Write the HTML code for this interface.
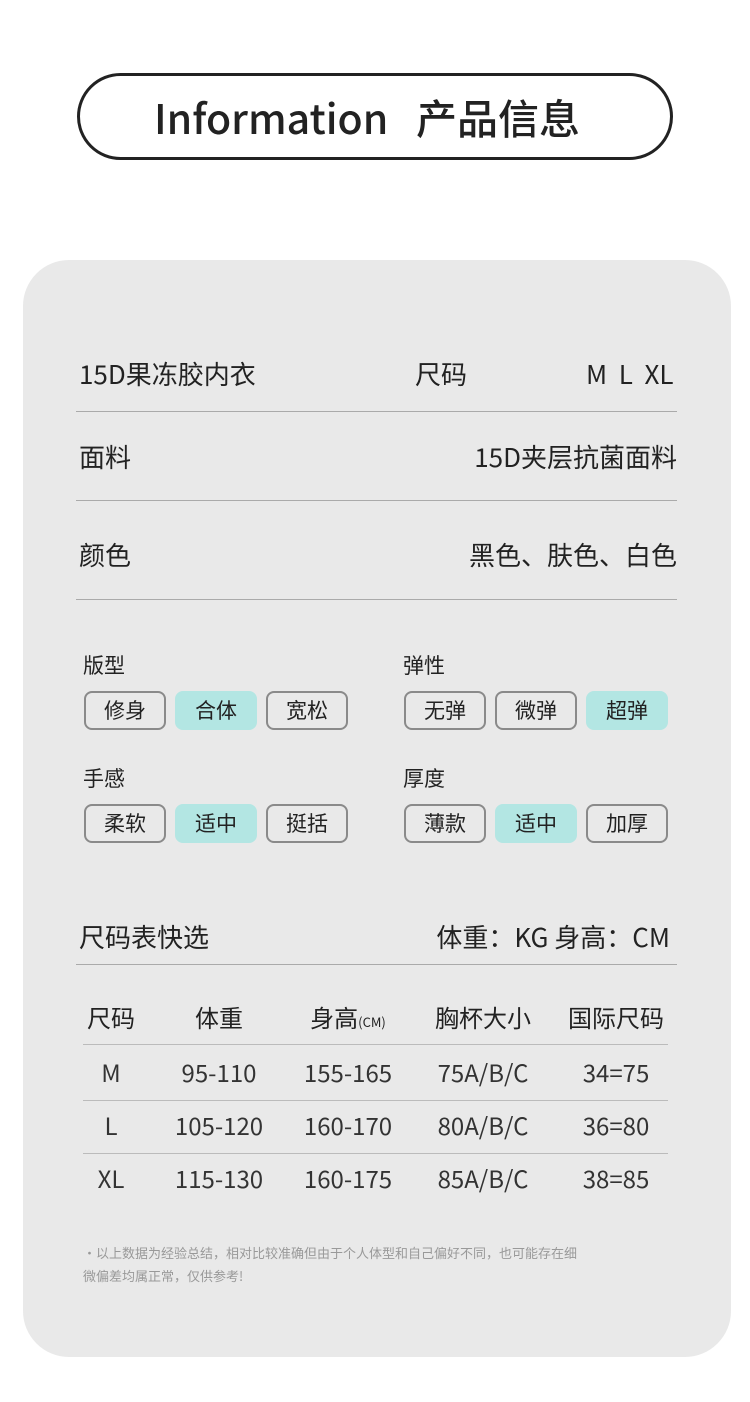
<!DOCTYPE html>
<html><head><meta charset="utf-8"><style>
*{margin:0;padding:0;box-sizing:border-box}
body{width:750px;height:1402px;background:#fff;position:relative;overflow:hidden;font-family:"Noto Sans CJK SC","Liberation Sans",sans-serif;color:#222}
.a{position:absolute;white-space:nowrap;line-height:1}
.pill{position:absolute;width:596px;left:77px;top:73px;height:87px;border:3px solid #222;border-radius:44px;text-align:center;line-height:81px;font-size:41px;font-family:"Noto Sans CJK SC",sans-serif;font-weight:500;color:#222;padding-right:16px}
.card{position:absolute;left:23px;top:260px;width:708px;height:1097px;background:#e9e9e9;border-radius:46px}
.hl{position:absolute;height:1px;background:#aaa}
.f25{font-size:26px}
.tag{position:absolute;width:82px;height:39px;border:2px solid #8a8a8a;border-radius:8px;text-align:center;line-height:35px;font-size:21px;color:#222}
.tag.on{background:#b3e6e3;border-color:#b3e6e3}
.lab{font-size:21px}
.td{position:absolute;font-size:24px;width:140px;text-align:center;line-height:1;color:#333}
.note{font-size:13px;color:#999}
</style></head><body>
<div class="pill">Information&nbsp;&nbsp;&nbsp;产品信息</div>
<div class="card"></div>

<div class="a f25" style="left:79px;top:361px">15D果冻胶内衣</div>
<div class="a f25" style="left:415px;top:361px">尺码</div>
<div class="a f25" style="left:586px;top:361px">M&nbsp;&nbsp;L&nbsp;&nbsp;XL</div>
<div class="hl" style="left:76px;top:411px;width:601px"></div>
<div class="a f25" style="left:79px;top:444px">面料</div>
<div class="a f25" style="right:73px;top:444px">15D夹层抗菌面料</div>
<div class="hl" style="left:76px;top:500px;width:601px"></div>
<div class="a f25" style="left:79px;top:542px">颜色</div>
<div class="a f25" style="right:73px;top:542px">黑色、肤色、白色</div>
<div class="hl" style="left:76px;top:599px;width:601px"></div>

<div class="a lab" style="left:83px;top:655px">版型</div>
<div class="a lab" style="left:403px;top:655px">弹性</div>
<div class="tag" style="left:84px;top:691px">修身</div>
<div class="tag on" style="left:175px;top:691px">合体</div>
<div class="tag" style="left:266px;top:691px">宽松</div>
<div class="tag" style="left:404px;top:691px">无弹</div>
<div class="tag" style="left:495px;top:691px">微弹</div>
<div class="tag on" style="left:586px;top:691px">超弹</div>
<div class="a lab" style="left:83px;top:768px">手感</div>
<div class="a lab" style="left:403px;top:768px">厚度</div>
<div class="tag" style="left:84px;top:804px">柔软</div>
<div class="tag on" style="left:175px;top:804px">适中</div>
<div class="tag" style="left:266px;top:804px">挺括</div>
<div class="tag" style="left:404px;top:804px">薄款</div>
<div class="tag on" style="left:495px;top:804px">适中</div>
<div class="tag" style="left:586px;top:804px">加厚</div>

<div class="a f25" style="left:79px;top:924px">尺码表快选</div>
<div class="a f25" style="right:80px;top:924px">体重：KG 身高：CM</div>
<div class="hl" style="left:76px;top:964px;width:601px"></div>

<div class="td" style="left:41px;top:1005px;color:#222">尺码</div>
<div class="td" style="left:149px;top:1005px;color:#222">体重</div>
<div class="td" style="left:278px;top:1005px;color:#222">身高<span style="font-size:13px">(CM)</span></div>
<div class="td" style="left:413px;top:1005px;color:#222">胸杯大小</div>
<div class="td" style="left:546px;top:1005px;color:#222">国际尺码</div>
<div class="hl" style="left:83px;top:1044px;width:585px;background:#bbb"></div>
<div class="td" style="left:41px;top:1060px">M</div>
<div class="td" style="left:149px;top:1060px">95-110</div>
<div class="td" style="left:278px;top:1060px">155-165</div>
<div class="td" style="left:413px;top:1060px">75A/B/C</div>
<div class="td" style="left:546px;top:1060px">34=75</div>
<div class="hl" style="left:83px;top:1100px;width:585px;background:#bbb"></div>
<div class="td" style="left:41px;top:1113px">L</div>
<div class="td" style="left:149px;top:1113px">105-120</div>
<div class="td" style="left:278px;top:1113px">160-170</div>
<div class="td" style="left:413px;top:1113px">80A/B/C</div>
<div class="td" style="left:546px;top:1113px">36=80</div>
<div class="hl" style="left:83px;top:1153px;width:585px;background:#bbb"></div>
<div class="td" style="left:41px;top:1166px">XL</div>
<div class="td" style="left:149px;top:1166px">115-130</div>
<div class="td" style="left:278px;top:1166px">160-175</div>
<div class="td" style="left:413px;top:1166px">85A/B/C</div>
<div class="td" style="left:546px;top:1166px">38=85</div>

<div class="a note" style="left:83px;top:1246px">·以上数据为经验总结，相对比较准确但由于个人体型和自己偏好不同，也可能存在细</div>
<div class="a note" style="left:83px;top:1269px">微偏差均属正常，仅供参考!</div>
</body></html>
